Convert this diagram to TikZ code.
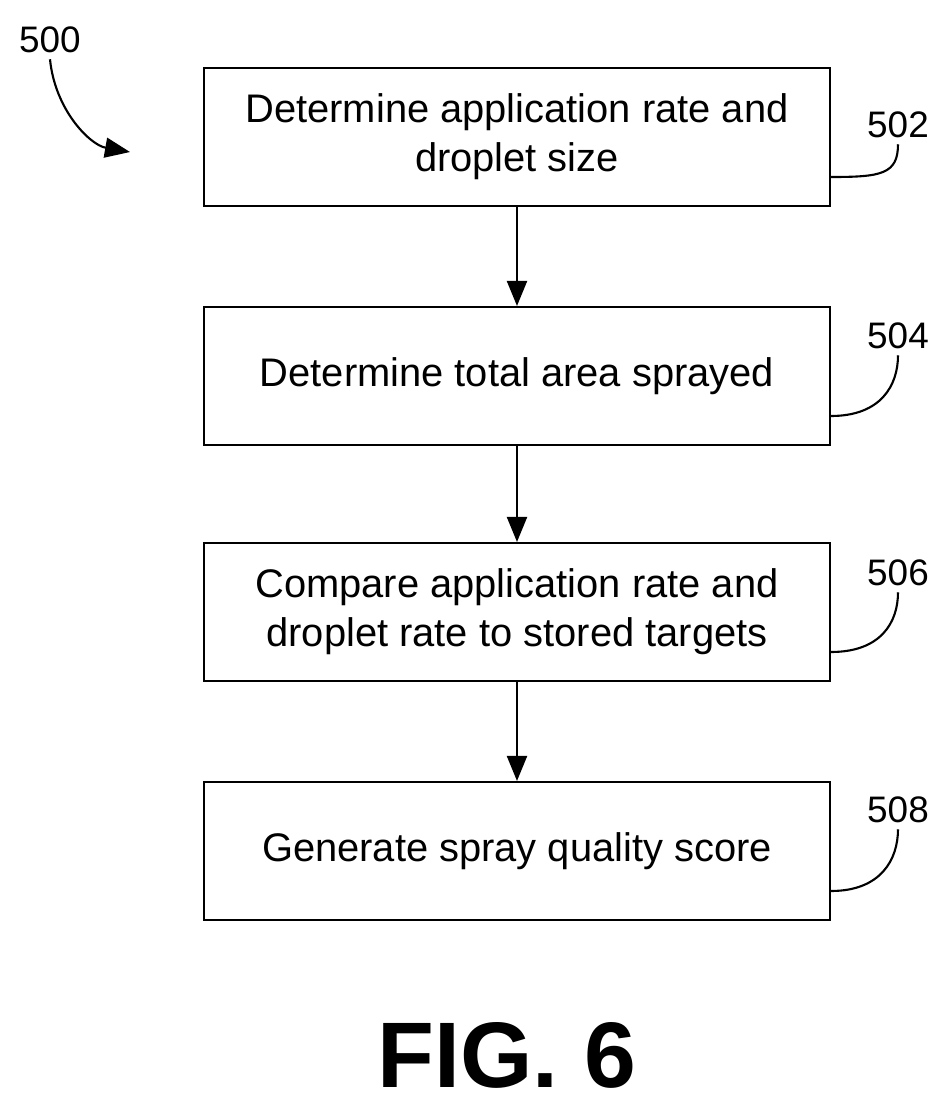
\documentclass[tikz,border=0pt]{standalone}
\usepackage{fontspec}
\setmainfont{Liberation Sans}
\usetikzlibrary{positioning,arrows.meta}
\tikzset{
  stepbox/.style={draw,line width=1.2pt,minimum width=12.52cm,minimum height=2.76cm,
    align=center,font=\fontsize{22.7}{28}\selectfont},
  flow/.style={-{Triangle[length=5mm,width=4mm]},line width=1.2pt},
  refnum/.style={font=\fontsize{21}{24}\selectfont},
}
\begin{document}
\begin{tikzpicture}[x=0.02cm,y=-0.02cm]
  \useasboundingbox (0,0) rectangle (951,1107);

  % steps
  \node[stepbox] (s502) at (517,137) {Determine application rate and\\droplet size};
  \node[stepbox] (s504) at (517,376) {Determine total area sprayed};
  \node[stepbox] (s506) at (517,612) {Compare application rate and\\droplet rate to stored targets};
  \node[stepbox] (s508) at (517,851) {Generate spray quality score};

  % connectors
  \foreach \a/\b in {s502/s504,s504/s506,s506/s508} {
    \draw[flow] (\a) -- (\b);
  }

  % reference numerals
  \foreach \s/\n/\y in {s502/502/125,s504/504/336,s506/506/573,s508/508/810} {
    \node[refnum] (l\n) at (898,\y) {\n};
    \draw[line width=1.2pt] (\s.east) ++(0,-0.8cm) .. controls +(50,0) and +(0,30) .. (l\n.south);
  }

  % figure number
  \node[refnum] (l500) at (50,40) {500};
  \coordinate (p500) at (130,152);
  \draw[flow] (l500.south) .. controls (55,110) and (90,145) .. (p500);

  \node[font=\bfseries\fontsize{53}{60}\selectfont] (fig) at (507,1055) {FIG. 6};
\end{tikzpicture}
\end{document}
